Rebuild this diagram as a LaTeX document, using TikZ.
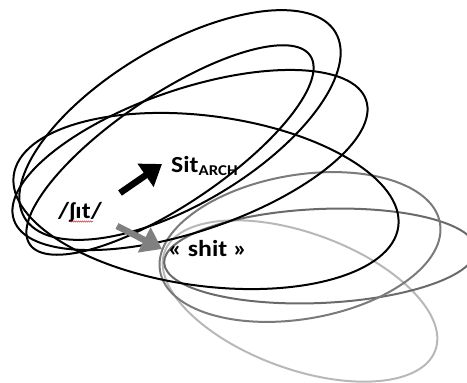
\documentclass[tikz,border=0pt]{standalone}
\usepackage{fontspec}
\setmainfont{Carlito}
\newfontfamily\lblfont[FakeStretch=1.12]{Carlito}
\usetikzlibrary{arrows.meta,decorations.pathmorphing}
\definecolor{midgray}{HTML}{7A7A7A}
\definecolor{darkgray2}{HTML}{6A6A6A}
\definecolor{lightgray2}{HTML}{B8B8B8}
\definecolor{arrowgray}{HTML}{808080}
\tikzset{
  ring/.style={line width=2pt},
  lbl/.style={inner sep=0pt, font=\lblfont\fontsize{23}{23}\selectfont\bfseries, anchor=base west},
  bigarrow/.style={line width=6.5pt, -{Triangle[length=20pt,width=27pt]}},
}
\begin{document}
\begin{tikzpicture}[x=1pt,y=-1pt]
\useasboundingbox (0,0) rectangle (467,383);
% gray ellipses
\draw[ring, lightgray2, rotate around={-20:(300,301)}] (300,301) ellipse [x radius=144pt, y radius=68pt];
\draw[ring, darkgray2, rotate around={2.5:(320,256)}] (320,256) ellipse [x radius=156pt, y radius=47pt];
\draw[ring, midgray, rotate around={9.7:(300,247)}] (300,247) ellipse [x radius=142pt, y radius=72pt];
% black ellipses
\draw[ring, rotate around={30.8:(180,125)}] (180,125) ellipse [x radius=181pt, y radius=79pt];
\draw[ring, rotate around={33.9:(170,150)}] (170,150) ellipse [x radius=169pt, y radius=55pt];
\draw[ring, rotate around={18.8:(190,160)}] (190,160) ellipse [x radius=186pt, y radius=71pt];
\draw[ring, rotate around={-7.6:(206,201)}] (206,201) ellipse [x radius=194pt, y radius=85pt];
% labels
\node[lbl] (sit) at (171,172) {Sit\raisebox{-3.5pt}{\fontsize{15}{15}\selectfont ARCH}};
\node[lbl] (shit) at (168,256) {« shit »};
\node[lbl] (ipa) at (58,218) {/ʃɪt/};
\draw[red, line width=0.5pt, decorate, decoration={snake, segment length=2pt, amplitude=0.6pt}] (70,221.5) -- (93,221.5);
% arrows
\coordinate (b1) at (120,193);
\coordinate (b2) at (162,164);
\coordinate (g1) at (117,226);
\coordinate (g2) at (162,249);
\draw[bigarrow] (b1) -- (b2);
\draw[bigarrow, arrowgray] (g1) -- (g2);
\end{tikzpicture}
\end{document}
